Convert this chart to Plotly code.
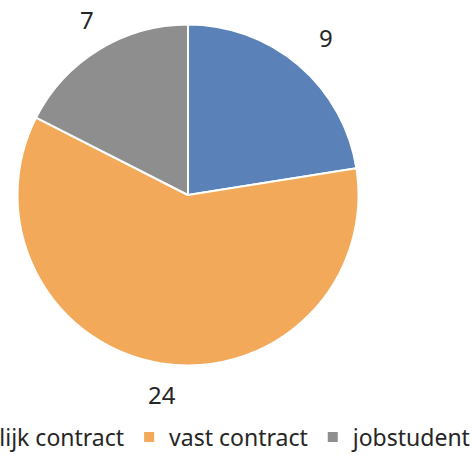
import math
import plotly.graph_objects as go

labels = ["tijdelijk contract", "vast contract", "jobstudent"]
values = [9, 24, 7]
colors = ["#5A82B8", "#F2A95A", "#8E8E8E"]

SHIFT = 100   # part of the figure hidden to the left of the window
EXTRA = 60    # part of the figure hidden to the right of the window
W, H = 472 + SHIFT + EXTRA, 480
cx, cy, r = 188 + SHIFT, 195, 170.5
LABEL_DIST = 204

fig = go.Figure(go.Pie(
    labels=labels,
    values=values,
    sort=False,
    direction="clockwise",
    rotation=0,
    marker=dict(colors=colors, line=dict(color="white", width=2)),
    textinfo="none",
    domain=dict(x=[(cx - r) / W, (cx + r) / W], y=[1 - (cy + r) / H, 1 - (cy - r) / H]),
    hoverinfo="label+value",
))

# value labels outside each slice, at the slice's mid-angle
total = sum(values)
cum = 0
for v in values:
    mid = (cum + v / 2) / total * 2 * math.pi
    cum += v
    px = cx + LABEL_DIST * math.sin(mid) + 6
    py = cy - LABEL_DIST * math.cos(mid) - 2
    fig.add_annotation(
        x=px / W, y=1 - py / H, xref="paper", yref="paper",
        text=str(v), showarrow=False, xanchor="center", yanchor="middle",
        font=dict(size=24, color="#262626", family="Noto Sans"),
    )

fig.update_layout(
    width=W,
    height=H,
    margin=dict(l=0, r=0, t=0, b=0),
    paper_bgcolor="white",
    plot_bgcolor="white",
    font=dict(family="Noto Sans", color="#262626"),
    showlegend=True,
    legend=dict(
        orientation="h",
        x=(SHIFT - 88) / W,
        xanchor="left",
        y=1 - 437 / H,
        yanchor="middle",
        font=dict(size=23, color="#262626", family="Noto Sans"),
        bgcolor="rgba(0,0,0,0)",
    ),
)

post = (
    "document.body.style.margin='0';document.body.style.overflow='hidden';"
    "var d=document.getElementById('{plot_id}');d.style.marginLeft='-%dpx';" % SHIFT
)
fig.write_html("out.html", post_script=post)
